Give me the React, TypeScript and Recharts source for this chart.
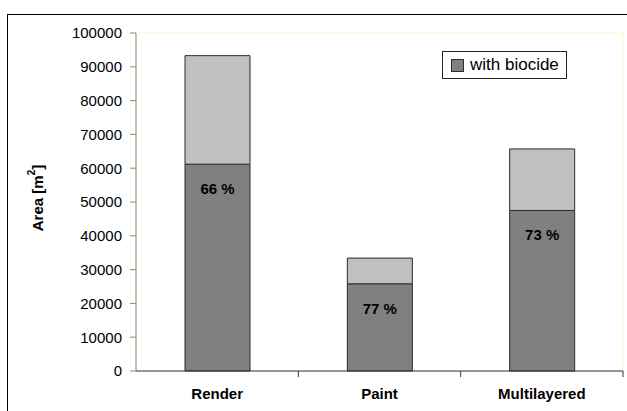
import { BarChart, Bar, XAxis, YAxis, Legend, LabelList, ReferenceArea } from 'recharts';

const categories = ['Render', 'Paint', 'Multilayered'];
const withBiocide = [61200, 25800, 47500];
const withoutBiocide = [32100, 7600, 18200];
const shares = [66, 77, 73];
const yTicks = [0, 10000, 20000, 30000, 40000, 50000, 60000, 70000, 80000, 90000, 100000];

const data = categories.map((name, i) => ({
  name,
  withBiocide: withBiocide[i],
  withoutBiocide: withoutBiocide[i],
  share: shares[i],
}));

const FONT = '"Liberation Sans", Arial, sans-serif';
const DARK = '#808080';
const LIGHT = '#C0C0C0';
const EDGE = '#2b2b2b';

// Excel-style legend box, only the dark series is listed
const LegendBox = () => (
  <div
    style={{
      border: '1px solid #222',
      background: '#fff',
      padding: '4px 7px 4px 8px',
      display: 'flex',
      alignItems: 'center',
      gap: 6,
      fontFamily: FONT,
      fontSize: 17,
      color: '#000',
      lineHeight: '18px',
      whiteSpace: 'nowrap',
    }}
  >
    <span style={{ width: 11, height: 11, background: DARK, border: `1px solid ${EDGE}`, display: 'inline-block' }} />
    <span>with biocide</span>
  </div>
);

const ShareLabel = (props: any) => {
  const { x, y, width, value } = props;
  return (
    <text x={x + width / 2} y={y + 30} textAnchor="middle" fontFamily={FONT} fontSize={15} fontWeight="bold" fill="#000">
      {value} %
    </text>
  );
};

// category labels, with Excel-like tick marks on the band boundaries
const CategoryTick = (props: any) => {
  const { x, y, payload } = props;
  const band = 487 / categories.length;
  return (
    <g>
      <line x1={x + band / 2} x2={x + band / 2} y1={y - 16} y2={y - 10} stroke="#333" />
      <text x={x} y={y} dy={12} textAnchor="middle" fontFamily={FONT} fontSize={15} fontWeight="bold" fill="#000">
        {payload.value}
      </text>
    </g>
  );
};

const YLabel = (props: any) => {
  const { viewBox } = props;
  const cx = 37;
  const cy = viewBox.y + viewBox.height / 2 - 4;
  return (
    <text
      x={cx}
      y={cy}
      transform={`rotate(-90, ${cx}, ${cy})`}
      textAnchor="middle"
      dominantBaseline="central"
      fontFamily={FONT}
      fontSize={15}
      fontWeight="bold"
      fill="#000"
    >
      Area [m<tspan fontSize={10} dy={-6}>2</tspan><tspan dy={6}>]</tspan>
    </text>
  );
};

export default function App() {
  return (
    <div style={{ position: 'fixed', left: 0, top: 0, width: 627, height: 411, overflow: 'hidden', background: '#fff' }}>
      <div style={{ position: 'absolute', left: 0, top: 0 }}>
        <BarChart width={627} height={411} data={data} margin={{ top: 33, right: 4, bottom: 0, left: 0 }} barSize={65}>
          <ReferenceArea y1={0} y2={100000} fill="none" stroke="#FFF6D0" strokeWidth={1} />
          <XAxis
            dataKey="name"
            height={40}
            stroke="#333"
            tickLine={false}
            tickSize={0}
            tickMargin={16}
            tick={<CategoryTick />}
          />
          <YAxis
            width={136}
            domain={[0, 100000]}
            ticks={yTicks}
            interval={0}
            stroke="#8a8a78"
            tickSize={6}
            tickMargin={8}
            tick={{ fontFamily: FONT, fontSize: 15, fill: '#000' }}
            label={<YLabel />}
          />
          <Legend
            layout="horizontal"
            verticalAlign="middle"
            align="center"
            content={<LegendBox />}
            wrapperStyle={{ position: 'absolute', left: 442, top: 51, width: 'auto', height: 'auto' }}
          />
          <Bar dataKey="withBiocide" stackId="a" fill={DARK} stroke={EDGE} strokeWidth={1} isAnimationActive={false}>
            <LabelList dataKey="share" content={<ShareLabel />} />
          </Bar>
          <Bar dataKey="withoutBiocide" stackId="a" fill={LIGHT} stroke={EDGE} strokeWidth={1} isAnimationActive={false} />
        </BarChart>
      </div>
      {/* outer chart frame, only top and left edges fall inside the picture */}
      <div
        style={{
          position: 'absolute',
          left: 7,
          top: 14,
          width: 700,
          height: 500,
          borderTop: '1px solid #000',
          borderLeft: '1px solid #000',
          pointerEvents: 'none',
        }}
      />
    </div>
  );
}
